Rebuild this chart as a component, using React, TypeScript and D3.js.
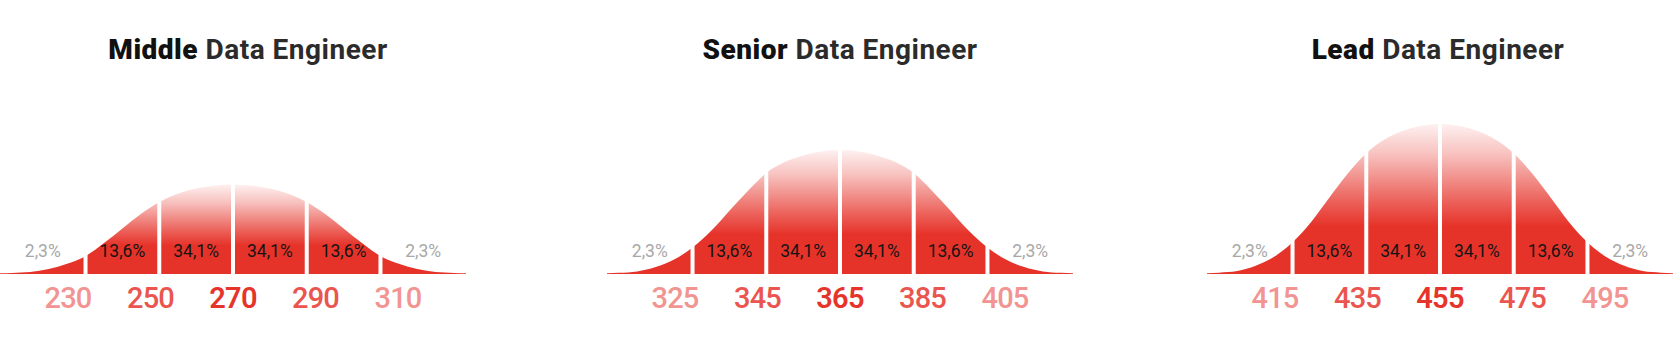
import React, { useEffect } from "react";
import * as d3 from "d3";

// ---- data ----
const levels = ["Middle", "Senior", "Lead"];
const titleRest = "Data Engineer";
const means = [270, 365, 455];
const middleTicks = [230, 250, 270, 290, 310];
const seniorTicks = [325, 345, 365, 385, 405];
const leadTicks = [415, 435, 455, 475, 495];
const shares = ["2,3%", "13,6%", "34,1%", "34,1%", "13,6%", "2,3%"];
// curve sample points, salary offset from the mean
const curveOffsets = [-63.2, -60, -55, -50, -45, -40, -35, -30, -25, -20, -10, 0, 10, 20, 25, 30, 35, 40, 45, 50, 55, 60, 63.2];
// curve heights (relative density) read at those offsets
const middleDensity = [0.5, 0.7, 1.3, 3.3, 6.9, 11.9, 20.6, 30.4, 40, 48, 57, 59.7, 57, 48, 40, 30.4, 20.6, 11.9, 6.9, 3.3, 1.3, 0.7, 0.5];
const seniorDensity = [0.5, 0.8, 1.7, 4.6, 9.6, 17.7, 28.6, 42.2, 55.4, 67.3, 79, 82.7, 79, 67.3, 55.4, 42.2, 28.6, 17.7, 9.6, 4.6, 1.7, 0.8, 0.5];
const leadDensity = [0.5, 0.9, 2, 5.5, 11.5, 21.1, 34.5, 51, 67, 80.5, 95.5, 100, 95.5, 80.5, 67, 51, 34.5, 21.1, 11.5, 5.5, 2, 0.9, 0.5];

const tickSets = [middleTicks, seniorTicks, leadTicks];
const densities = [middleDensity, seniorDensity, leadDensity];

const W = 1680;
const H = 339;
const baseY = 274;
const centers = [233, 840, 1440];
const titleCenters = [248, 840, 1438];
const halfWidth = 233;
const labelHalf = 165;
const RED = "#e6332a";
const FONT = "Roboto, 'Open Sans', sans-serif";
const tickColors = ["#f29491", "#ea5550", "#e5352b", "#ea5550", "#f29491"];
const tickWeights = [500, 500, 600, 500, 500];

export default function App() {
  useEffect(() => {
    document.body.style.margin = "0";
  }, []);

  const y = d3.scaleLinear().domain([0, 100]).range([baseY, 124]);

  return (
    <svg width={W} height={H} style={{ display: "block", background: "#fff" }} fontFamily={FONT}>
      <defs>
        {levels.map((lv, i) => {
          const peak = d3.max(densities[i]) as number;
          return (
            <linearGradient key={lv} id={`grad-${i}`} gradientUnits="userSpaceOnUse" x1={0} x2={0} y1={y(peak)} y2={baseY}>
              <stop offset="0" stopColor={RED} stopOpacity={0.07} />
              <stop offset="0.2" stopColor={RED} stopOpacity={0.3} />
              <stop offset="0.4" stopColor={RED} stopOpacity={0.6} />
              <stop offset="0.55" stopColor={RED} stopOpacity={0.82} />
              <stop offset="0.68" stopColor={RED} stopOpacity={1} />
              <stop offset="1" stopColor={RED} stopOpacity={1} />
            </linearGradient>
          );
        })}
      </defs>
      {levels.map((lv, i) => {
        const mean = means[i];
        const cx = centers[i];
        const x = d3.scaleLinear().domain([mean - 63.2, mean + 63.2]).range([cx - halfWidth, cx + halfWidth]);
        const pts = curveOffsets.map((o, k) => ({ s: mean + o, v: densities[i][k] }));
        const area = d3
          .area<{ s: number; v: number }>()
          .x((d) => x(d.s))
          .y0(baseY)
          .y1((d) => y(d.v))
          .curve(d3.curveMonotoneX);
        const ticks = tickSets[i];
        const peak = d3.max(densities[i]) as number;
        const bounds = [mean - 63.2, ...ticks, mean + 63.2].map((v) => x(v));
        const lbl = d3.scalePoint<number>().domain(ticks).range([cx - labelHalf, cx + labelHalf]);
        return (
          <g key={lv}>
            <text x={titleCenters[i]} y={59} textAnchor="middle" fontSize={28} letterSpacing={0.5}>
              <tspan fontWeight={900} fill="#111">{lv}</tspan>
              <tspan fontWeight={700} fill="#2b2b2b">{" " + titleRest}</tspan>
            </text>
            <path d={area(pts) || ""} fill={`url(#grad-${i})`} />
            {ticks.map((t) => (
              <line key={t} x1={x(t)} x2={x(t)} y1={baseY + 2} y2={y(peak) - 3} stroke="#fff" strokeWidth={4} />
            ))}
            {shares.map((s, k) => {
              const tail = k === 0 || k === shares.length - 1;
              return (
                <text
                  key={k}
                  x={(bounds[k] + bounds[k + 1]) / 2}
                  y={257}
                  textAnchor="middle"
                  fontSize={17.5}
                  fill={tail ? "#a8a8a8" : "#141414"}
                >
                  {s}
                </text>
              );
            })}
            {ticks.map((t, k) => (
              <text
                key={t}
                x={lbl(t)}
                y={307.5}
                textAnchor="middle"
                fontSize={29}
                fontWeight={tickWeights[k]}
                fill={tickColors[k]}
                letterSpacing={-0.8}
              >
                {t}
              </text>
            ))}
          </g>
        );
      })}
    </svg>
  );
}
